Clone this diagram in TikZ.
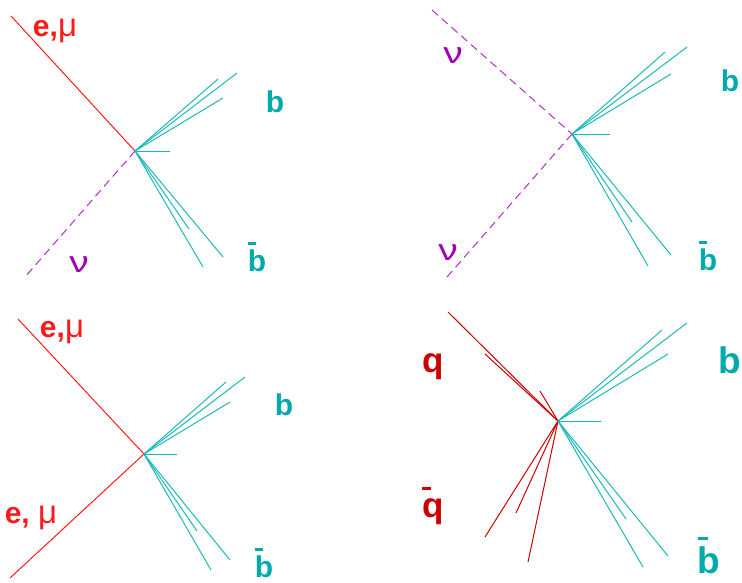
\documentclass[tikz,border=0pt]{standalone}
\usepackage{fontspec}
\setmainfont{Liberation Sans}
\usetikzlibrary{positioning}
\definecolor{leptred}{HTML}{FF1A1A}
\definecolor{quarkred}{HTML}{CC0000}
\definecolor{jetteal}{HTML}{1CB8B8}
\definecolor{labteal}{HTML}{00AAAA}
\definecolor{nupurple}{HTML}{B030C4}
\definecolor{nulabel}{HTML}{A000B4}
\newcommand{\bbar}{\leavevmode\rlap{\raisebox{0.88em}{\rule{0.27em}{0.1em}}}b}
\newcommand{\qbar}{\leavevmode\rlap{\raisebox{0.76em}{\rule{0.25em}{0.09em}}}q}
\newcommand{\nuglyph}{\mdseries\scalebox{1.3}[1]{ν}}
\newcommand{\muglyph}{\mdseries\scalebox{1.1}{μ}}
\tikzset{
  lepton/.style={draw=leptred,line width=1pt},
  nuline/.style={draw=nupurple,line width=1pt,dash pattern=on 8pt off 5pt},
  bjet/.style={draw=jetteal,line width=1pt},
  qjet/.style={draw=quarkred,line width=1pt},
  lab/.style={anchor=base,inner sep=0pt,font=\fontsize{30}{30}\selectfont\bfseries},
  biglab/.style={lab,font=\fontsize{37}{37}\selectfont\bfseries},
}
\begin{document}
\begin{tikzpicture}[x=1pt,y=-1pt]
    \useasboundingbox (0,0) rectangle (742,582);
    % vertices
    \coordinate (v1) at (135,151);
    \coordinate (v2) at (572,134);
    \coordinate (v3) at (144,454);
    \coordinate (v4) at (558,421);
    % panel 1: lepton + neutrino
    \coordinate (l1) at (11,16);
    \coordinate (n1) at (25,277);
    \draw[lepton] (l1) -- (v1);
    \draw[nuline] (v1) -- (n1);
    \foreach \p in {(218,79),(237,73),(223,98),(170,151),(189,229),(223,257),(203,267)}
      \draw[bjet] (v1) -- \p;
    \node[lab,text=leptred] (e1) at (55,36) {e,\muglyph};
    \node[lab,text=nulabel] (nu1) at (79,272) {\nuglyph};
    \node[lab,text=labteal] (b1) at (275,112) {b};
    \node[lab,text=labteal] (bb1) at (257,271) {\bbar};
    % panel 2: two neutrinos
    \coordinate (n2a) at (432,10);
    \coordinate (n2b) at (447,277);
    \draw[nuline] (n2a) -- (v2);
    \draw[nuline] (v2) -- (n2b);
    \foreach \p in {(665,52),(687,47),(671,74),(610,134),(632,222),(671,255),(648,266)}
      \draw[bjet] (v2) -- \p;
    \node[lab,text=nulabel] (nu2a) at (453,63) {\nuglyph};
    \node[lab,text=nulabel] (nu2b) at (448,260) {\nuglyph};
    \node[lab,text=labteal] (b2) at (730,91) {b};
    \node[lab,text=labteal] (bb2) at (708,270) {\bbar};
    % panel 3: two leptons
    \coordinate (l3a) at (18,319);
    \coordinate (l3b) at (10,578);
    \draw[lepton] (l3a) -- (v3);
    \draw[lepton] (v3) -- (l3b);
    \foreach \p in {(226,382),(245,377),(230,402),(177,454),(197,531),(230,560),(211,570)}
      \draw[bjet] (v3) -- \p;
    \node[lab,text=leptred] (e3a) at (62,337) {e,\muglyph};
    \node[lab,text=leptred] (e3b) at (31,523) {e, \muglyph};
    \node[lab,text=labteal] (b3) at (284,415) {b};
    \node[lab,text=labteal] (bb3) at (264,577) {\bbar};
    % panel 4: light quark jets
    \foreach \p in {(448,312),(485,354),(540,391),(485,537),(516,513),(528,562)}
      \draw[qjet] (v4) -- \p;
    \foreach \p in {(662,330),(687,323),(668,354),(601,421),(626,519),(668,556),(643,567)}
      \draw[bjet] (v4) -- \p;
    \node[biglab,text=quarkred,font=\fontsize{35}{35}\selectfont\bfseries] (q4) at (433,372) {q};
    \node[biglab,text=quarkred,font=\fontsize{35}{35}\selectfont\bfseries] (qb4) at (433,517) {\qbar};
    \node[biglab,text=labteal] (b4) at (730,373) {b};
    \node[biglab,text=labteal] (bb4) at (709,573) {\bbar};
\end{tikzpicture}
\end{document}
